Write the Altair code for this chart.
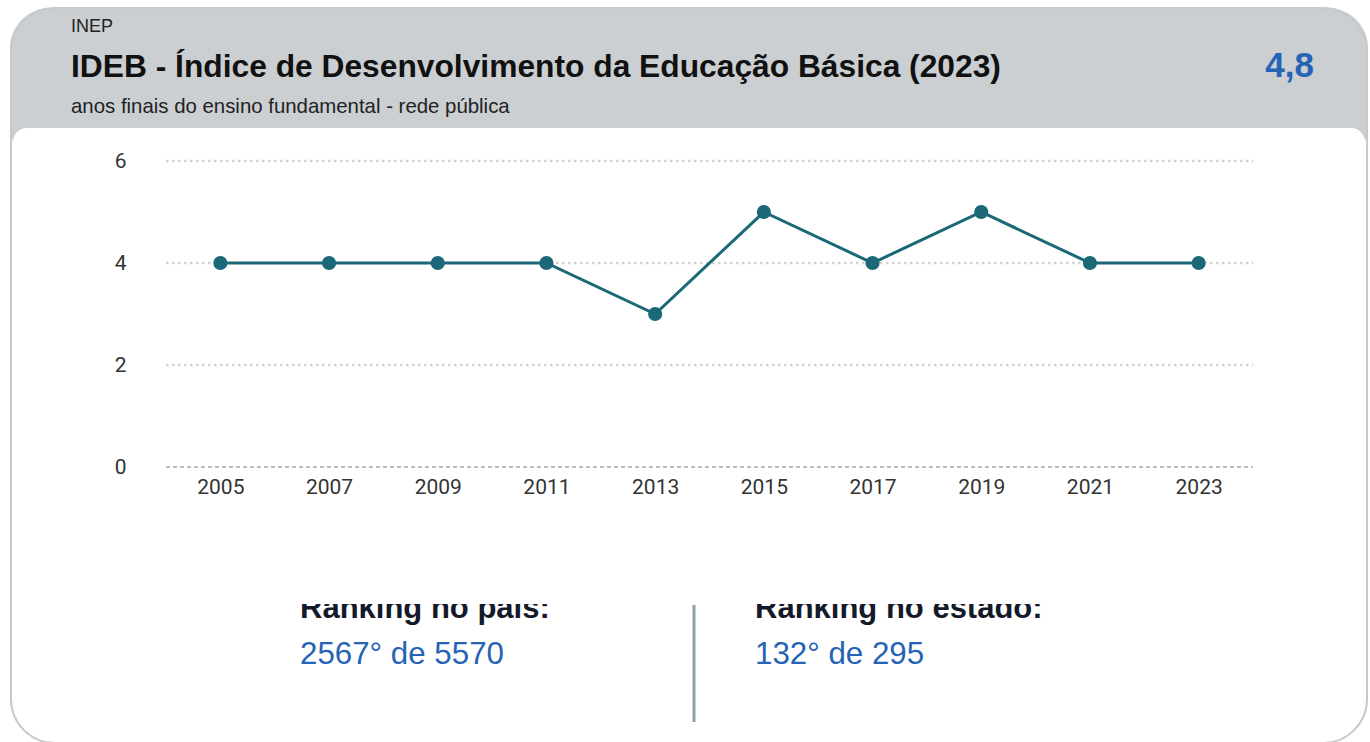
import altair as alt
import pandas as pd

# ---- data ----
anos = ["2005", "2007", "2009", "2011", "2013", "2015", "2017", "2019", "2021", "2023"]
ideb = [4, 4, 4, 4, 3, 5, 4, 5, 4, 4]
grade_pontilhada = [2, 4, 6]
grade_zero = [0]

fonte = "INEP"
titulo = "IDEB - Índice de Desenvolvimento da Educação Básica (2023)"
subtitulo = "anos finais do ensino fundamental - rede pública"
valor_atual = "4,8"
rotulo_pais = "Ranking no país:"
valor_pais = "2567° de 5570"
rotulo_estado = "Ranking no estado:"
valor_estado = "132° de 295"

# ---- layout ----
W, H = 1087, 306          # plot area
PL, PT = 166, 161         # plot origin on the page
PR = 1370 - PL - W
PB = 742 - PT - H


def px(x):
    return alt.value(x - PL)


def py(y):
    return alt.value(y - PT)


df = pd.DataFrame({"ano": anos, "ideb": ideb})
one = alt.Data(values=[{"k": 1}])

TEAL = "#1a6878"
BLUE = "#2563b4"

# card outline
card = alt.Chart(one).mark_rect(
    filled=False, stroke="#c6cacc", strokeWidth=2, cornerRadius=44
).encode(x=px(11), x2=px(1367), y=py(8), y2=py(743))

# header band
header = alt.Chart(one).mark_rect(
    color="#cbcfd2", cornerRadiusTopLeft=40, cornerRadiusTopRight=40
).encode(x=px(10), x2=px(1368), y=py(8), y2=py(140))

# white body with rounded top corners
body = alt.Chart(one).mark_rect(
    color="#ffffff", cornerRadiusTopLeft=14, cornerRadiusTopRight=14
).encode(x=px(13), x2=px(1365), y=py(128), y2=py(741))


def txt(s, x, y, size, weight="normal", color="#111111", align="left", font="Liberation Sans"):
    return alt.Chart(one).mark_text(
        text=s, align=align, baseline="alphabetic", fontSize=size,
        fontWeight=weight, color=color, font=font
    ).encode(x=px(x), y=py(y))


t_fonte = txt(fonte, 71, 32, 18, color="#222222")
t_titulo = txt(titulo, 71, 77, 31.75, weight="bold", color="#111111")
t_sub = txt(subtitulo, 71, 113, 20.4, color="#222222")
t_valor = txt(valor_atual, 1314, 77, 35, weight="bold", color=BLUE, align="right")

t_rp = txt(rotulo_pais, 300, 618, 31, weight="bold", color="#141a2a")
t_vp = txt(valor_pais, 300, 664, 31.3, color=BLUE)
t_re = txt(rotulo_estado, 755, 618, 31, weight="bold", color="#141a2a")
t_ve = txt(valor_estado, 755, 664, 31.3, color=BLUE)

# white mask that cuts the top of the ranking labels
mask = alt.Chart(one).mark_rect(color="#ffffff").encode(
    x=px(250), x2=px(1200), y=py(560), y2=py(604)
)

divider = alt.Chart(one).mark_rule(color="#8d9fa7", strokeWidth=3).encode(
    x=px(694), y=py(605), y2=py(722)
)

yscale = alt.Scale(domain=[0, 6], nice=False)

grid_dot = alt.Chart(pd.DataFrame({"v": grade_pontilhada})).mark_rule(
    color="#d2d2d2", strokeWidth=2.5, strokeDash=[2.5, 3.5]
).encode(y=alt.Y("v:Q", scale=yscale), x=alt.value(0), x2=alt.value(W))

grid_zero = alt.Chart(pd.DataFrame({"v": grade_zero})).mark_rule(
    color="#a9a9a9", strokeWidth=1.5, strokeDash=[4, 3]
).encode(y=alt.Y("v:Q", scale=yscale), x=alt.value(0), x2=alt.value(W))

xenc = alt.X(
    "ano:O",
    sort=anos,
    scale=alt.Scale(padding=0.5),
    axis=alt.Axis(
        title=None, labelAngle=0, ticks=False, domain=False, grid=False,
        labelFont="Roboto", labelFontSize=21, labelColor="#333333",
        labelPadding=9, zindex=1,
    ),
)
yenc = alt.Y(
    "ideb:Q",
    scale=yscale,
    axis=alt.Axis(
        title=None, values=[0, 2, 4, 6], ticks=False, domain=False, grid=False,
        labelFont="Roboto", labelFontSize=21, labelColor="#333333",
        labelPadding=40, zindex=1,
    ),
)

line = alt.Chart(df).mark_line(color=TEAL, strokeWidth=3).encode(x=xenc, y=yenc)
pts = alt.Chart(df).mark_point(
    filled=True, color=TEAL, size=200, opacity=1
).encode(x=xenc, y=yenc)

chart = alt.layer(
    header, body, card,
    t_fonte, t_titulo, t_sub, t_valor,
    t_rp, t_re, mask, t_vp, t_ve, divider,
    grid_dot, grid_zero, line, pts,
).properties(
    width=W, height=H,
    padding={"left": PL, "top": PT, "right": PR, "bottom": PB},
    autosize=alt.AutoSizeParams(type="none"),
    background="#ffffff",
).configure_view(stroke=None)

chart.save("out.html", embed_options={"renderer": "svg", "actions": False})
